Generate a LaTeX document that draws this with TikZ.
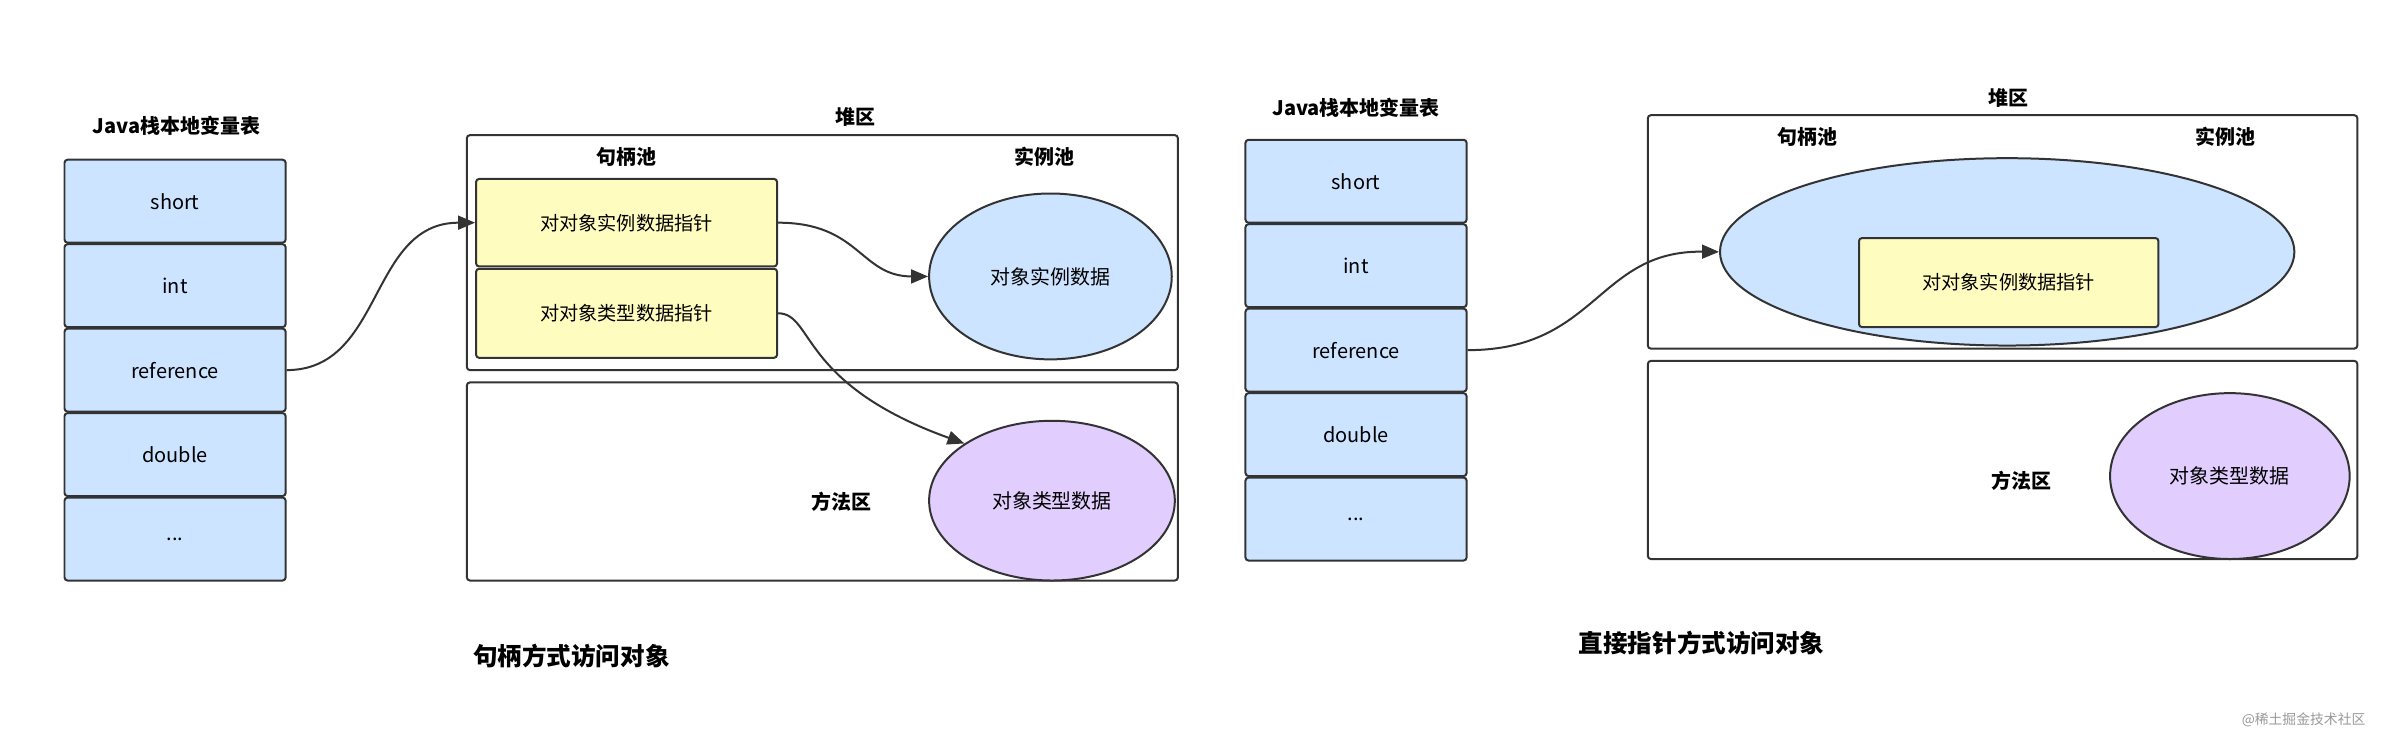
\documentclass[tikz,border=0pt]{standalone}
\usepackage{fontspec}
\setmainfont{Noto Sans CJK SC}
\usetikzlibrary{shapes.geometric,arrows.meta}
\begin{document}
\begin{tikzpicture}[x=1pt,y=-1pt,
  cell/.style={draw=black!80,line width=1.3pt,rounded corners=2pt,font=\fontsize{13}{15}\selectfont},
  ybox/.style={draw=black!80,line width=1.3pt,fill=yellow!25,rounded corners=2pt,font=\fontsize{12.5}{15}\selectfont},
  area/.style={draw=black!80,line width=1.3pt,rounded corners=2pt},
  bl/.style={draw=black!80,line width=1.3pt,fill={rgb,255:red,204;green,228;blue,255}},
  pl/.style={draw=black!80,line width=1.3pt,fill={rgb,255:red,225;green,206;blue,255}},
  lbl/.style={font=\bfseries\fontsize{13}{15}\selectfont},
  captext/.style={font=\bfseries\fontsize{16}{18}\selectfont},
  arr/.style={draw=black!80,line width=1.3pt,-{Triangle[length=11pt,width=9pt]}}]
\useasboundingbox (0,0) rectangle (1568,480);
\tikzset{cellfill/.style={fill={rgb,255:red,204;green,228;blue,255}}}
% left
\node[lbl] (lt) at (115,82) {Java栈本地变量表};
\foreach \n/\t/\y in {a/short/131,b/int/186,c/reference/241,d/double/296,e/{...}/351}
  \node[cell,cellfill,minimum width=144pt,minimum height=54pt] (L\n) at (114,\y) {\t};
\node[area,minimum width=463pt,minimum height=153pt] (H1) at (535.5,164.5) {};
\node[lbl] (h1t) at (557,76) {堆区};
\node[lbl] (h1a) at (408,102) {句柄池};
\node[lbl] (h1b) at (680,102) {实例池};
\node[ybox,minimum width=196pt,minimum height=57pt] (Y1) at (408,145) {对对象实例数据指针};
\node[ybox,minimum width=196pt,minimum height=58pt] (Y2) at (408,204) {对对象类型数据指针};
\node[bl,ellipse,minimum width=158pt,minimum height=108pt,font=\fontsize{13}{15}\selectfont] (E1) at (684,180) {对象实例数据};
\node[area,minimum width=463pt,minimum height=129pt] (M1) at (535.5,313.5) {};
\node[lbl] (m1t) at (548,327) {方法区};
\node[pl,ellipse,minimum width=160pt,minimum height=104pt,font=\fontsize{13}{15}\selectfont] (P1) at (685,326) {对象类型数据};
\draw[arr] (Lc.east) .. controls (250,241) and (240,145) .. (Y1.west);
\draw[arr] (Y1.east) .. controls (560,145) and (560,180) .. (E1.west);
\draw[arr] (Y2.east) .. controls (530,204) and (520,250) .. (P1.north west);
\node[captext] (c1) at (372,427) {句柄方式访问对象};
% right
\node[lbl] (rt) at (883,70) {Java栈本地变量表};
\foreach \n/\t/\y in {a/short/118,b/int/173,c/reference/228,d/double/283,e/{...}/338}
  \node[cell,cellfill,minimum width=144pt,minimum height=54pt] (R\n) at (883,\y) {\t};
\node[area,minimum width=462pt,minimum height=152pt] (H2) at (1304,151) {};
\node[lbl] (h2t) at (1308,64) {堆区};
\node[lbl] (h2a) at (1177,89) {句柄池};
\node[lbl] (h2b) at (1449,89) {实例池};
\node[bl,ellipse,minimum width=374pt,minimum height=122pt] (E2) at (1307,164) {};
\node[ybox,minimum width=195pt,minimum height=58pt] (Y3) at (1308,184) {对对象实例数据指针};
\node[area,minimum width=462pt,minimum height=129pt] (M2) at (1304,299.5) {};
\node[lbl] (m2t) at (1316,313) {方法区};
\node[pl,ellipse,minimum width=156pt,minimum height=108pt,font=\fontsize{13}{15}\selectfont] (P2) at (1452,310) {对象类型数据};
\draw[arr] (Rc.east) .. controls (1040,228) and (1040,163) .. (E2.west);
\node[captext] (c2) at (1108,419) {直接指针方式访问对象};
\node[font=\fontsize{9}{11}\selectfont,text=black!40] (wm) at (1500,469) {@稀土掘金技术社区};
\end{tikzpicture}
\end{document}
